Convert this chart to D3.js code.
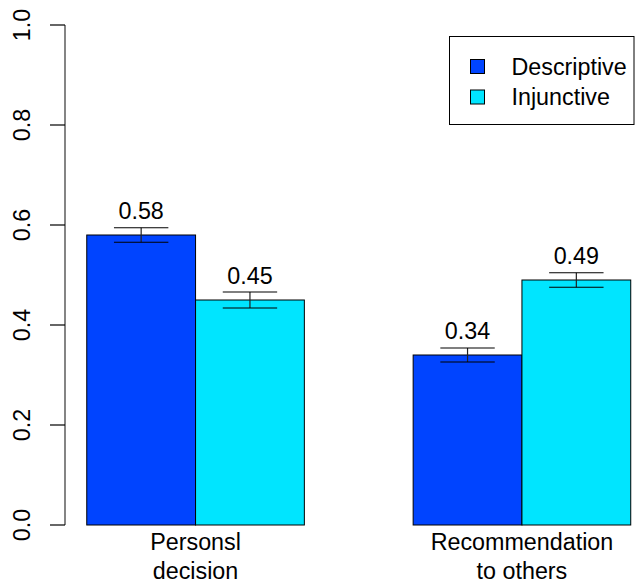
<!DOCTYPE html>
<html>
<head>
<meta charset="utf-8">
<script src="https://cdn.jsdelivr.net/npm/d3@7"></script>
<style>
  html, body { margin: 0; padding: 0; background: #fff; }
  svg { display: block; font-family: "Liberation Sans", Arial, Helvetica, sans-serif; }
</style>
</head>
<body>
<script>
const categories = [["Personsl", "decision"], ["Recommendation", "to others"]];
const seriesNames = ["Descriptive", "Injunctive"];
const seriesColors = ["#0044ff", "#00e5ff"];
const descriptive = [0.58, 0.34];
const injunctive = [0.45, 0.49];
const descriptiveErr = [0.0145, 0.014];
const injunctiveErr = [0.016, 0.0145];
const yTicks = [0.0, 0.2, 0.4, 0.6, 0.8, 1.0];

const W = 635, H = 584;
const FS = 23.3;
const svg = d3.select("body").append("svg").attr("width", W).attr("height", H);

// R barplot layout: bar units, group spacing 1
const x = d3.scaleLinear().domain([0.8, 6.2]).range([65, 652.5]);
const y = d3.scaleLinear().domain([0, 1]).range([525, 25]);

const values = [descriptive, injunctive];
const errs = [descriptiveErr, injunctiveErr];
const bars = [];
categories.forEach((c, g) => {
  seriesNames.forEach((s, si) => {
    const left = 1 + g * 3 + si;
    bars.push({ g, si, left, v: values[si][g], e: errs[si][g] });
  });
});

// bars
svg.append("g").selectAll("rect").data(bars).join("rect")
  .attr("x", d => x(d.left))
  .attr("y", d => y(d.v))
  .attr("width", d => x(d.left + 1) - x(d.left))
  .attr("height", d => y(0) - y(d.v))
  .attr("fill", d => seriesColors[d.si])
  .attr("stroke", "#000")
  .attr("stroke-width", 1);

// error bars
const eb = svg.append("g").attr("stroke", "#000").attr("stroke-width", 1.2);
bars.forEach(d => {
  const cx = x(d.left + 0.5);
  const hw = (x(d.left + 1) - x(d.left)) * 0.25;
  eb.append("line").attr("x1", cx).attr("x2", cx).attr("y1", y(d.v + d.e)).attr("y2", y(d.v - d.e)).attr("stroke", "#222");
  eb.append("line").attr("x1", cx - hw).attr("x2", cx + hw).attr("y1", y(d.v + d.e)).attr("y2", y(d.v + d.e));
  eb.append("line").attr("x1", cx - hw).attr("x2", cx + hw).attr("y1", y(d.v - d.e)).attr("y2", y(d.v - d.e));
});

// value labels
svg.append("g").selectAll("text").data(bars).join("text")
  .attr("x", d => x(d.left + 0.5))
  .attr("y", d => y(d.v) - 16.5)
  .attr("text-anchor", "middle")
  .attr("font-size", FS)
  .attr("fill", "#000")
  .text(d => d.v.toFixed(2));

// y axis
const ax = svg.append("g");
ax.append("line").attr("x1", 65).attr("x2", 65).attr("y1", y(1)).attr("y2", y(0)).attr("stroke", "#333").attr("stroke-width", 1.2);
yTicks.forEach(t => {
  ax.append("line").attr("x1", 50).attr("x2", 65).attr("y1", y(t)).attr("y2", y(t)).attr("stroke", "#000").attr("stroke-width", 1.2);
  ax.append("text")
    .attr("transform", `translate(29.5,${y(t)}) rotate(-90)`)
    .attr("text-anchor", "middle")
    .attr("font-size", FS)
    .attr("fill", "#000")
    .text(t.toFixed(1));
});

// category labels
categories.forEach((c, g) => {
  const cx = x(2 + g * 3);
  c.forEach((line, li) => {
    svg.append("text").attr("x", cx).attr("y", 549.5 + li * 29)
      .attr("text-anchor", "middle").attr("font-size", FS).attr("fill", "#000").text(line);
  });
});

// legend
const lg = svg.append("g");
lg.append("rect").attr("x", 449.5).attr("y", 36.5).attr("width", 184.5).attr("height", 88)
  .attr("fill", "#fff").attr("stroke", "#000").attr("stroke-width", 1);
seriesNames.forEach((s, i) => {
  const cy = 66.5 + i * 30.5;
  lg.append("rect").attr("x", 470.5).attr("y", cy - 7).attr("width", 14).attr("height", 14)
    .attr("fill", seriesColors[i]).attr("stroke", "#000").attr("stroke-width", 1);
  lg.append("text").attr("x", 511.5).attr("y", cy + 8).attr("font-size", FS).attr("fill", "#000").text(s);
});
</script>
</body>
</html>
